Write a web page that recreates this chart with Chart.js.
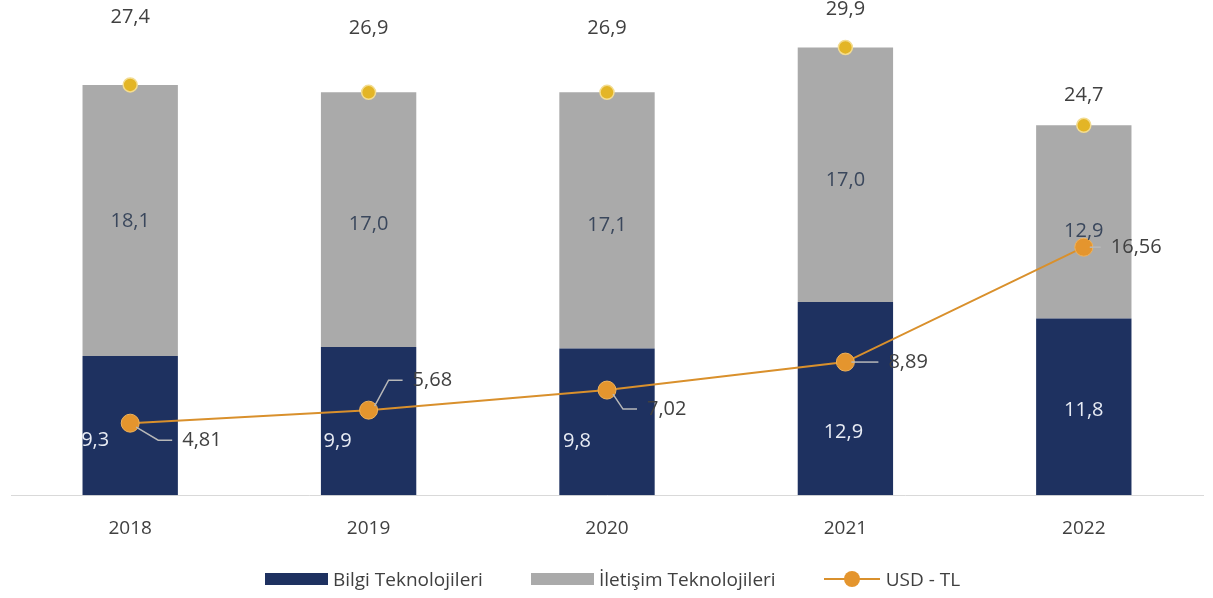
<!DOCTYPE html>
<html lang="tr">
<head>
    <meta charset="UTF-8">
    <title>Bilgi ve İletişim Teknolojileri</title>
    <script src="https://cdn.jsdelivr.net/npm/chart.js"></script>
    <style>
        body { margin: 0; background: #fff; font-family: "Open Sans", sans-serif; }
        #wrap { position: relative; width: 1213px; height: 598px; }
        #legend {
            position: absolute; left: 0; right: 0; top: 566px;
            display: flex; justify-content: center; align-items: center;
            font-size: 19px; color: #404040; padding-left: 12px;
        }
        .item { display: flex; align-items: center; margin: 0 24px; }
        .box { width: 63px; height: 12px; margin-right: 5px; }
        .ln { position: relative; width: 56px; height: 18px; margin-right: 6px; }
        .ln:before { content: ""; position: absolute; left: 0; right: 0; top: 8px; height: 2px; background: #d9902c; }
        .ln:after { content: ""; position: absolute; left: 20px; top: 1px; width: 16px; height: 16px; border-radius: 50%; background: #e4952e; }
    </style>
</head>
<body>
<div id="wrap">
    <canvas id="chart" width="1213" height="598"></canvas>
    <div id="legend">
        <div class="item"><span class="box" style="background:#1e3160"></span>Bilgi Teknolojileri</div>
        <div class="item"><span class="box" style="background:#aaaaaa"></span>İletişim Teknolojileri</div>
        <div class="item"><span class="ln"></span>USD - TL</div>
    </div>
</div>

<script>
    // values (billion USD, and USD/TL rate)
    const years = ['2018', '2019', '2020', '2021', '2022'];
    const bilgi = [9.3, 9.9, 9.8, 12.9, 11.8];
    const iletisim = [18.1, 17.0, 17.1, 17.0, 12.9];
    const toplam = [27.4, 26.9, 26.9, 29.9, 24.7];
    const usdTl = [4.81, 5.68, 7.02, 8.89, 16.56];

    // label nudges, pixels
    const bilgiOff = [[-35, 15], [-31, 20], [-30, 19], [-2, 34], [0, 3]];
    const iletisimOff = [[0, 1], [0, 5], [0, 5], [0, 6], [0, 9]];
    const toplamOff = [-68, -64, -64, -38, -30];
    const usdOff = [[52, 17], [44, -30], [40, 19], [43, 0], [27, 0]];

    const fmt = (v, d) => v.toFixed(d).replace('.', ',');

    // draws the value labels and leader lines
    const labelPlugin = {
        id: 'labels',
        afterDatasetsDraw(chart) {
            const ctx = chart.ctx;
            ctx.save();
            ctx.font = '20px "Open Sans"';
            ctx.textBaseline = 'middle';

            const mBilgi = chart.getDatasetMeta(2);
            const mIlet = chart.getDatasetMeta(3);
            const mTop = chart.getDatasetMeta(1);
            const mUsd = chart.getDatasetMeta(0);

            ctx.textAlign = 'center';
            mBilgi.data.forEach((b, i) => {
                ctx.fillStyle = '#e8ecf4';
                ctx.fillText(fmt(bilgi[i], 1), b.x + bilgiOff[i][0], (b.y + b.base) / 2 + bilgiOff[i][1]);
            });
            mIlet.data.forEach((b, i) => {
                ctx.fillStyle = '#3a475c';
                ctx.fillText(fmt(iletisim[i], 1), b.x + iletisimOff[i][0], (b.y + b.base) / 2 + iletisimOff[i][1]);
            });
            mTop.data.forEach((p, i) => {
                ctx.fillStyle = '#404040';
                ctx.fillText(fmt(toplam[i], 1), p.x, p.y + toplamOff[i]);
            });

            ctx.textAlign = 'left';
            mUsd.data.forEach((p, i) => {
                const lx = p.x + usdOff[i][0];
                const ly = p.y + usdOff[i][1];
                ctx.strokeStyle = '#b8b8b8';
                ctx.lineWidth = 1.5;
                ctx.beginPath();
                ctx.moveTo(p.x + 6, p.y + Math.sign(usdOff[i][1]) * 4);
                if (usdOff[i][1] !== 0) ctx.lineTo(lx - 24, ly);
                ctx.lineTo(lx - 10, ly);
                ctx.stroke();
                ctx.fillStyle = '#404040';
                ctx.fillText(fmt(usdTl[i], 2), lx, ly);
            });
            ctx.restore();
        }
    };

    const ctx = document.getElementById('chart').getContext('2d');
    const chart = new Chart(ctx, {
        type: 'bar',
        data: {
            labels: years,
            datasets: [
                {
                    type: 'line',
                    label: 'USD - TL',
                    data: usdTl,
                    stack: 'usd',
                    borderColor: '#d9902c',
                    borderWidth: 2,
                    pointRadius: 9,
                    pointBackgroundColor: '#e4952e',
                    pointBorderColor: '#f0b25a',
                    pointBorderWidth: 1,
                    order: 0
                },
                {
                    type: 'line',
                    label: 'Toplam',
                    data: toplam,
                    stack: 'toplam',
                    showLine: false,
                    pointRadius: 7,
                    pointBackgroundColor: '#e3b526',
                    pointBorderColor: '#f3dc90',
                    pointBorderWidth: 1.5,
                    order: 1
                },
                {
                    label: 'Bilgi Teknolojileri',
                    data: bilgi,
                    backgroundColor: '#1e3160',
                    barPercentage: 0.8,
                    categoryPercentage: 0.5,
                    order: 2
                },
                {
                    label: 'İletişim Teknolojileri',
                    data: iletisim,
                    backgroundColor: '#aaaaaa',
                    barPercentage: 0.8,
                    categoryPercentage: 0.5,
                    order: 2
                }
            ]
        },
        options: {
            responsive: false,
            animation: false,
            layout: { padding: { left: 11, right: 6, top: 0, bottom: 44 } },
            plugins: {
                legend: { display: false },
                tooltip: { enabled: false }
            },
            scales: {
                x: {
                    stacked: true,
                    grid: { display: false },
                    border: { display: true, color: '#d9d9d9', width: 1 },
                    ticks: {
                        padding: 14,
                        color: '#404040',
                        font: { family: '"Open Sans"', size: 19 }
                    }
                },
                y: {
                    stacked: true,
                    display: false,
                    min: 0,
                    max: 32.4
                }
            }
        },
        plugins: [labelPlugin]
    });
</script>
</body>
</html>
